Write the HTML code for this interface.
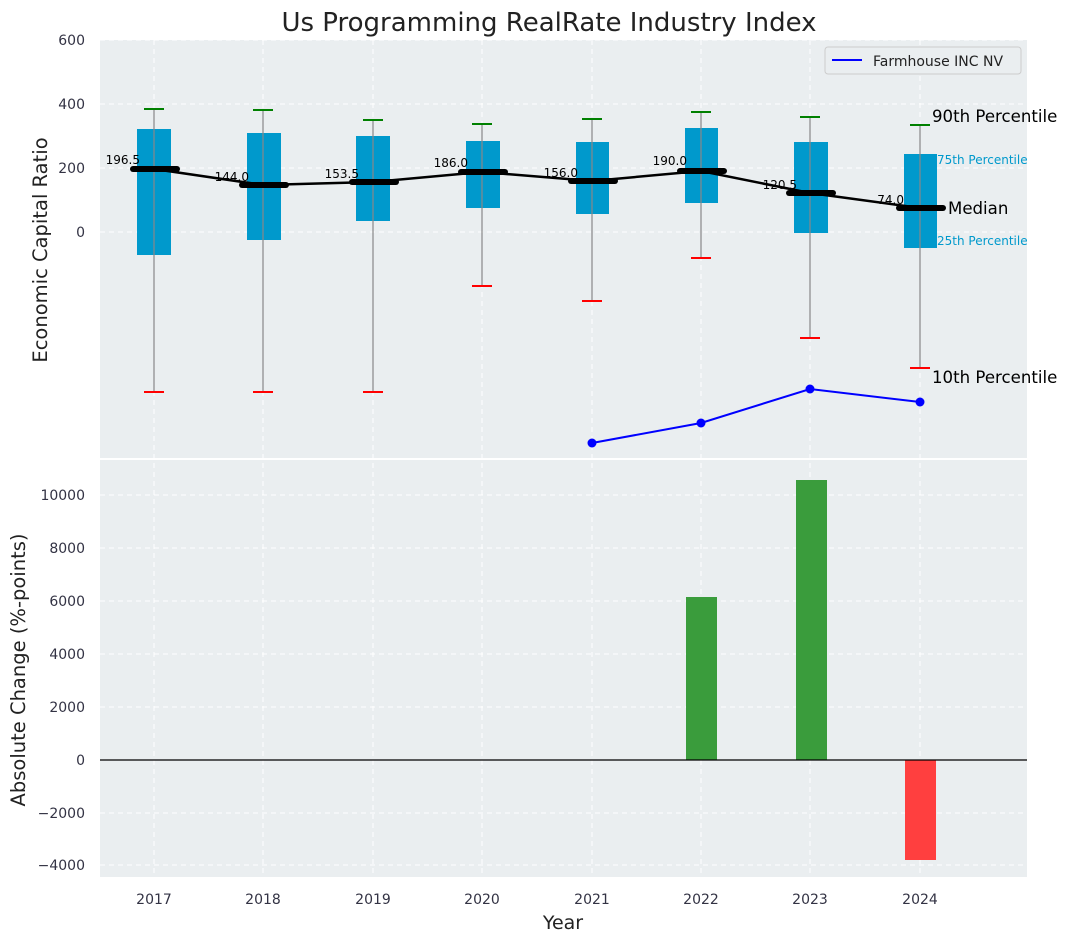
<!DOCTYPE html><html><head><style>body{margin:0;background:#fff}svg{display:block;font-family:"DejaVu Sans","Liberation Sans",sans-serif}</style></head><body>
<svg width="1067" height="942" xmlns="http://www.w3.org/2000/svg">
<rect width="1067" height="942" fill="#fff"/>
<text x="549" y="31" font-size="26" text-anchor="middle" fill="#222">Us Programming RealRate Industry Index</text>
<rect x="100" y="40" width="927" height="418" fill="#eaeef0"/>
<rect x="100" y="460" width="927" height="417" fill="#eaeef0"/>
<g stroke="#fff" stroke-dasharray="5,4" stroke-width="1">
<line x1="100" x2="1027" y1="40" y2="40"/><line x1="100" x2="1027" y1="104" y2="104"/><line x1="100" x2="1027" y1="168" y2="168"/><line x1="100" x2="1027" y1="232" y2="232"/>
<line x1="100" x2="1027" y1="495" y2="495"/><line x1="100" x2="1027" y1="548" y2="548"/><line x1="100" x2="1027" y1="601" y2="601"/><line x1="100" x2="1027" y1="654" y2="654"/><line x1="100" x2="1027" y1="707" y2="707"/><line x1="100" x2="1027" y1="813" y2="813"/><line x1="100" x2="1027" y1="865" y2="865"/>
<g><line x1="154" x2="154" y1="40" y2="877"/><line x1="263" x2="263" y1="40" y2="877"/><line x1="373" x2="373" y1="40" y2="877"/><line x1="482" x2="482" y1="40" y2="877"/><line x1="592" x2="592" y1="40" y2="877"/><line x1="701" x2="701" y1="40" y2="877"/><line x1="810" x2="810" y1="40" y2="877"/><line x1="920" x2="920" y1="40" y2="877"/></g>
</g>
<g font-size="14" fill="#334" text-anchor="end">
<text x="85" y="45">600</text><text x="85" y="109">400</text><text x="85" y="173">200</text><text x="85" y="237">0</text>
<text x="85" y="500">10000</text><text x="85" y="553">8000</text><text x="85" y="606">6000</text><text x="85" y="659">4000</text><text x="85" y="712">2000</text><text x="85" y="765">0</text><text x="85" y="818">−2000</text><text x="85" y="870">−4000</text>
</g>
<g font-size="14" fill="#334" text-anchor="middle">
<text x="154" y="904">2017</text><text x="263" y="904">2018</text><text x="373" y="904">2019</text><text x="482" y="904">2020</text><text x="592" y="904">2021</text><text x="701" y="904">2022</text><text x="810" y="904">2023</text><text x="920" y="904">2024</text>
</g>
<text x="563" y="929" font-size="19" text-anchor="middle" fill="#222">Year</text>
<text transform="translate(47,250) rotate(-90)" font-size="19.5" text-anchor="middle" fill="#222">Economic Capital Ratio</text>
<text transform="translate(25,670) rotate(-90)" font-size="19.5" text-anchor="middle" fill="#222">Absolute Change (%-points)</text>
<g fill="#0099cc">
<rect x="137" y="129" width="34" height="126"/><rect x="247" y="133" width="34" height="107"/><rect x="356" y="136" width="34" height="85"/><rect x="466" y="141" width="34" height="67"/><rect x="576" y="142" width="33" height="72"/><rect x="685" y="128" width="33" height="75"/><rect x="794" y="142" width="34" height="91"/><rect x="904" y="154" width="33" height="94"/>
</g>
<g stroke="#888" stroke-width="1.2">
<line x1="154" x2="154" y1="109" y2="392"/><line x1="263" x2="263" y1="110" y2="392"/><line x1="373" x2="373" y1="120" y2="392"/><line x1="482" x2="482" y1="124" y2="286"/><line x1="592" x2="592" y1="119" y2="301"/><line x1="701" x2="701" y1="112" y2="258"/><line x1="810" x2="810" y1="117" y2="338"/><line x1="920" x2="920" y1="125" y2="368"/>
</g>
<g stroke="green" stroke-width="2">
<line x1="144" x2="164" y1="109" y2="109"/><line x1="253" x2="273" y1="110" y2="110"/><line x1="363" x2="383" y1="120" y2="120"/><line x1="472" x2="492" y1="124" y2="124"/><line x1="582" x2="602" y1="119" y2="119"/><line x1="691" x2="711" y1="112" y2="112"/><line x1="800" x2="820" y1="117" y2="117"/><line x1="910" x2="930" y1="125" y2="125"/>
</g>
<g stroke="red" stroke-width="2">
<line x1="144" x2="164" y1="392" y2="392"/><line x1="253" x2="273" y1="392" y2="392"/><line x1="363" x2="383" y1="392" y2="392"/><line x1="472" x2="492" y1="286" y2="286"/><line x1="582" x2="602" y1="301" y2="301"/><line x1="691" x2="711" y1="258" y2="258"/><line x1="800" x2="820" y1="338" y2="338"/><line x1="910" x2="930" y1="368" y2="368"/>
</g>
<polyline points="154,169 263,185 373,182 482,172 592,181 701,171 810,193 920,208" fill="none" stroke="#000" stroke-width="2.5"/>
<g stroke="#000" stroke-width="6" stroke-linecap="round">
<line x1="133" x2="177" y1="169" y2="169"/><line x1="242" x2="286" y1="185" y2="185"/><line x1="352" x2="396" y1="182" y2="182"/><line x1="461" x2="505" y1="172" y2="172"/><line x1="571" x2="615" y1="181" y2="181"/><line x1="680" x2="724" y1="171" y2="171"/><line x1="789" x2="833" y1="193" y2="193"/><line x1="899" x2="943" y1="208" y2="208"/>
</g>
<g font-size="12" fill="#000" text-anchor="end">
<text x="140" y="164">196.5</text><text x="249" y="181">144.0</text><text x="359" y="178">153.5</text><text x="468" y="167">186.0</text><text x="578" y="177">156.0</text><text x="687" y="165">190.0</text><text x="797" y="189">120.5</text><text x="904" y="204">74.0</text>
</g>
<text x="932" y="122" font-size="16.6">90th Percentile</text>
<text x="937" y="164" font-size="12" fill="#0099cc">75th Percentile</text>
<text x="948" y="214" font-size="16.6">Median</text>
<text x="937" y="245" font-size="12" fill="#0099cc">25th Percentile</text>
<text x="932" y="383" font-size="16.6">10th Percentile</text>
<polyline points="592,443 701,423 810,389 920,402" fill="none" stroke="blue" stroke-width="2"/>
<g fill="blue"><circle cx="592" cy="443" r="4.5"/><circle cx="701" cy="423" r="4.5"/><circle cx="810" cy="389" r="4.5"/><circle cx="920" cy="402" r="4.5"/></g>
<rect x="825" y="47" width="196" height="27" rx="3" fill="#eaeef0" stroke="#ccc"/>
<line x1="832" x2="862" y1="60" y2="60" stroke="blue" stroke-width="2"/>
<text x="873" y="66" font-size="14" fill="#222">Farmhouse INC NV</text>
<rect x="686" y="597" width="31" height="163" fill="#3a9c3c"/>
<rect x="796" y="480" width="31" height="280" fill="#3a9c3c"/>
<rect x="905" y="760" width="31" height="100" fill="#ff3f3f"/>
<line x1="100" x2="1027" y1="760" y2="760" stroke="#000" stroke-width="1.2"/>
</svg>
</body></html>
